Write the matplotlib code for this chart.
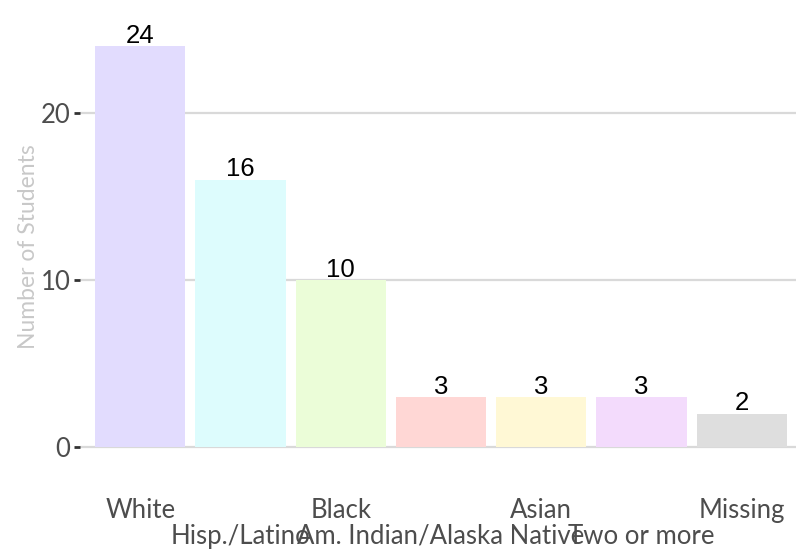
import matplotlib
matplotlib.use("Agg")
import matplotlib.pyplot as plt
import numpy as np

categories = ["White", "Hisp./Latino", "Black", "Am. Indian/Alaska Native",
              "Asian", "Two or more", "Missing"]
counts = [24, 16, 10, 3, 3, 3, 2]
colors = ["#E2DCFE", "#DDFCFD", "#EBFDD8", "#FFD7D5", "#FFF8D5", "#F3DBFC", "#DEDEDE"]
yticks = [0, 10, 20]

fig = plt.figure(figsize=(7.96, 5.5), dpi=100)
left = 80 / 796
width = (802 - 80) / 796
bottom = 1 - 467 / 550
top = 1 - 26 / 550
ax = fig.add_axes([left, bottom, width, top - bottom])

x = np.arange(len(categories))
bars = ax.bar(x, counts, width=0.9, color=colors, zorder=2)
for xi, v in zip(x, counts):
    ax.text(xi, v - 0.1, str(v), ha="center", va="bottom", fontsize=18.5,
            family="Liberation Sans", color="black", zorder=3)

ax.set_xlim(-0.6, len(categories) - 0.4)
ax.set_ylim(-1.2, 25.2)
ax.set_yticks(yticks)
ax.set_yticklabels([str(t) for t in yticks], family="Lato", fontsize=18.5, color="#4D4D4D")
ax.yaxis.grid(True, color="#D9D9D9", linewidth=1.6, zorder=0)
ax.xaxis.grid(False)
ax.tick_params(axis="y", length=4, width=2, color="#333333", pad=3)
ax.tick_params(axis="x", length=0, pad=22)
labels = [c if i % 2 == 0 else "\n" + c for i, c in enumerate(categories)]
ax.set_xticks(x)
ax.set_xticklabels(labels, family="Lato", fontsize=18.5, color="#4D4D4D", linespacing=1.05)
for s in ax.spines.values():
    s.set_visible(False)
ax.set_ylabel("Number of Students", family="Lato", fontsize=16.5, color="#C8C8C8", labelpad=1)

fig.savefig("out.png", dpi=100)
